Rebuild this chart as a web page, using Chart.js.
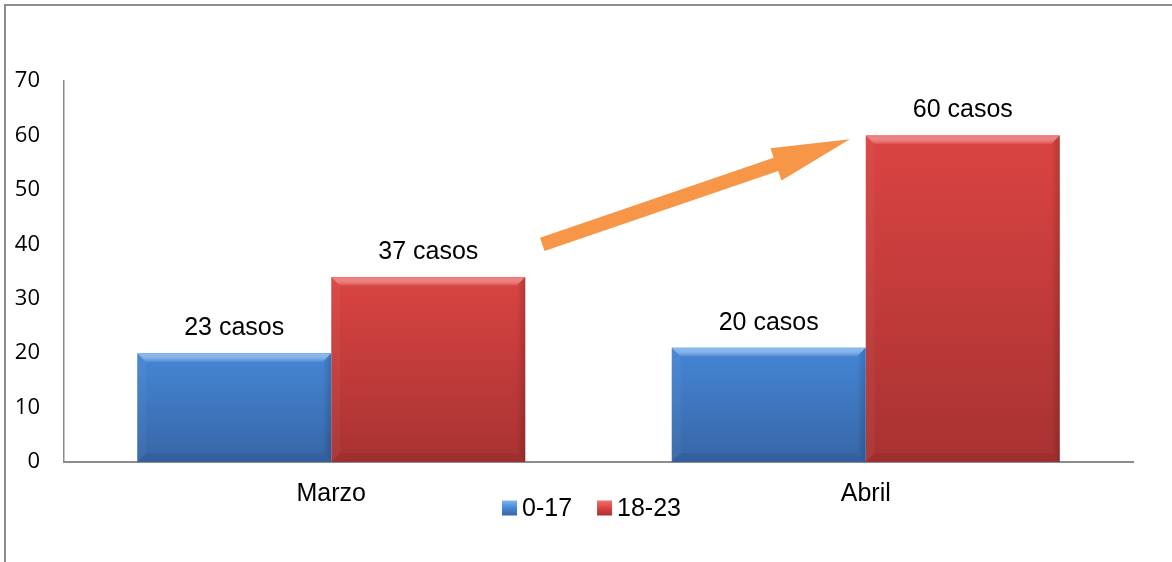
<!DOCTYPE html>
<html>
<head>
<meta charset="utf-8">
<script src="https://cdn.jsdelivr.net/npm/chart.js@4.4.1/dist/chart.umd.min.js"></script>
<style>
  body { margin: 0; background: #fff; }
  #wrap { position: relative; width: 1172px; height: 562px; overflow: hidden; }
  #frame { position: absolute; left: 4px; top: 4px; width: 1400px; height: 800px;
           border-left: 2px solid #8e8e8e; border-top: 2px solid #8e8e8e; }
  canvas { position: absolute; left: 0; top: 0; }
</style>
</head>
<body>
<div id="wrap">
  <div id="frame"></div>
  <canvas id="chart" width="1172" height="562"></canvas>
</div>
<script>
// datos del gráfico
const categories = ['Marzo', 'Abril'];
const seriesNames = ['0-17', '18-23'];
const values017 = [20, 21];
const values1823 = [34, 60];
const labels017 = ['23 casos', '20 casos'];
const labels1823 = ['37 casos', '60 casos'];
const yMin = 0;
const yMax = 70;
const yStep = 10;

// colores (arriba, abajo, brillo)
const blueColors = ['#4586d6', '#3766a6', '#7fb6f0'];
const redColors = ['#da4442', '#a83232', '#f27272'];

const textFont = '"Liberation Sans", Arial, sans-serif';

function barGradient(colors) {
  return (ctx) => {
    const chart = ctx.chart;
    if (!chart.chartArea || ctx.raw === undefined) return colors[0];
    const y = chart.scales.y;
    const top = y.getPixelForValue(ctx.raw);
    const bottom = y.getPixelForValue(0);
    const g = chart.ctx.createLinearGradient(0, top, 0, bottom);
    g.addColorStop(0, colors[0]);
    g.addColorStop(1, colors[1]);
    return g;
  };
}

// biseles, etiquetas, flecha y leyenda
const extrasPlugin = {
  id: 'extras',
  afterDatasetsDraw(chart) {
    const ctx = chart.ctx;
    const yScale = chart.scales.y;
    const allLabels = [labels017, labels1823];
    const allColors = [blueColors, redColors];

    chart.data.datasets.forEach((ds, di) => {
      const meta = chart.getDatasetMeta(di);
      meta.data.forEach((bar, i) => {
        const w = bar.width;
        const left = bar.x - w / 2, right = bar.x + w / 2;
        const top = bar.y, bottom = bar.base;
        const b = 9;
        ctx.save();
        // brillo superior
        const gt = ctx.createLinearGradient(0, top, 0, top + b);
        gt.addColorStop(0, allColors[di][2]);
        gt.addColorStop(1, 'rgba(255,255,255,0.02)');
        ctx.fillStyle = gt;
        ctx.beginPath();
        ctx.moveTo(left, top); ctx.lineTo(right, top);
        ctx.lineTo(right - b, top + b); ctx.lineTo(left + b, top + b);
        ctx.closePath(); ctx.fill();
        // lado izquierdo
        ctx.fillStyle = 'rgba(255,255,255,0.04)';
        ctx.beginPath();
        ctx.moveTo(left, top); ctx.lineTo(left + b, top + b);
        ctx.lineTo(left + b, bottom - b); ctx.lineTo(left, bottom);
        ctx.closePath(); ctx.fill();
        // lado derecho
        const gr = ctx.createLinearGradient(right - b, 0, right, 0);
        gr.addColorStop(0, 'rgba(0,0,0,0)');
        gr.addColorStop(1, 'rgba(0,0,0,0.16)');
        ctx.fillStyle = gr;
        ctx.beginPath();
        ctx.moveTo(right, top); ctx.lineTo(right - b, top + b);
        ctx.lineTo(right - b, bottom - b); ctx.lineTo(right, bottom);
        ctx.closePath(); ctx.fill();
        // parte inferior
        ctx.fillStyle = 'rgba(0,0,0,0.06)';
        ctx.beginPath();
        ctx.moveTo(left, bottom); ctx.lineTo(left + b, bottom - b);
        ctx.lineTo(right - b, bottom - b); ctx.lineTo(right, bottom);
        ctx.closePath(); ctx.fill();
        ctx.restore();

        // etiqueta de casos
        ctx.save();
        ctx.font = '25px ' + textFont;
        ctx.fillStyle = '#000';
        ctx.textAlign = 'center';
        ctx.textBaseline = 'alphabetic';
        ctx.fillText(allLabels[di][i], bar.x, top - 18);
        ctx.restore();
      });
    });

    // flecha naranja de Marzo a Abril
    const r0 = chart.getDatasetMeta(1).data[0];
    const r1 = chart.getDatasetMeta(1).data[1];
    const x0 = r0.x + r0.width / 2 + 17, y0 = yScale.getPixelForValue(40);
    const x1 = r1.x - r1.width / 2 - 16, y1 = yScale.getPixelForValue(59.3);
    const ang = Math.atan2(y1 - y0, x1 - x0);
    const len = Math.hypot(x1 - x0, y1 - y0);
    const shaft = 7, head = 17, headLen = 78;
    ctx.save();
    ctx.translate(x0, y0);
    ctx.rotate(ang);
    ctx.fillStyle = '#f79646';
    ctx.beginPath();
    ctx.moveTo(0, -shaft);
    ctx.lineTo(len - headLen, -shaft);
    ctx.lineTo(len - headLen, -head);
    ctx.lineTo(len, 0);
    ctx.lineTo(len - headLen, head);
    ctx.lineTo(len - headLen, shaft);
    ctx.lineTo(0, shaft);
    ctx.closePath();
    ctx.fill();
    ctx.restore();

    // leyenda
    const area = chart.chartArea;
    ctx.save();
    ctx.font = '25px ' + textFont;
    const box = 15, gap = 5, itemGap = 25;
    const widths = seriesNames.map(n => ctx.measureText(n).width);
    const total = widths.reduce((a, w) => a + box + gap + w, 0) + itemGap * (seriesNames.length - 1);
    let lx = (area.left + area.right) / 2 - 7 - total / 2;
    const ly = area.bottom + 46;
    seriesNames.forEach((n, i) => {
      const c = allColors[i];
      const g = ctx.createLinearGradient(0, ly - box / 2, 0, ly + box / 2);
      g.addColorStop(0, c[2]);
      g.addColorStop(0.5, c[0]);
      g.addColorStop(1, c[1]);
      ctx.fillStyle = g;
      ctx.fillRect(lx, ly - box / 2, box, box);
      ctx.fillStyle = '#000';
      ctx.textBaseline = 'middle';
      ctx.textAlign = 'left';
      ctx.fillText(n, lx + box + gap, ly + 1);
      lx += box + gap + widths[i] + itemGap;
    });
    ctx.restore();
  }
};

new Chart(document.getElementById('chart'), {
  type: 'bar',
  data: {
    labels: categories,
    datasets: [
      { label: seriesNames[0], data: values017, backgroundColor: barGradient(blueColors) },
      { label: seriesNames[1], data: values1823, backgroundColor: barGradient(redColors) }
    ]
  },
  options: {
    responsive: false,
    animation: false,
    events: [],
    layout: { padding: { top: 81, right: 39, left: 0, bottom: 0 } },
    datasets: { bar: { categoryPercentage: 0.726, barPercentage: 1.0 } },
    plugins: { legend: { display: false }, tooltip: { enabled: false } },
    scales: {
      x: {
        grid: { display: false, drawTicks: false },
        border: { display: true, color: '#8c8c8c', width: 2 },
        ticks: { color: '#000', padding: 17, font: { family: textFont, size: 25 } },
        afterFit: (s) => { s.height = 100; }
      },
      y: {
        min: yMin,
        max: yMax,
        grid: { display: false, drawTicks: false },
        border: { display: true, color: '#8c8c8c', width: 1.5 },
        ticks: { stepSize: yStep, color: '#000', padding: 24, font: { family: '"Open Sans", sans-serif', size: 22 } },
        afterFit: (s) => { s.width = 64; }
      }
    }
  },
  plugins: [extrasPlugin]
});
</script>
</body>
</html>
